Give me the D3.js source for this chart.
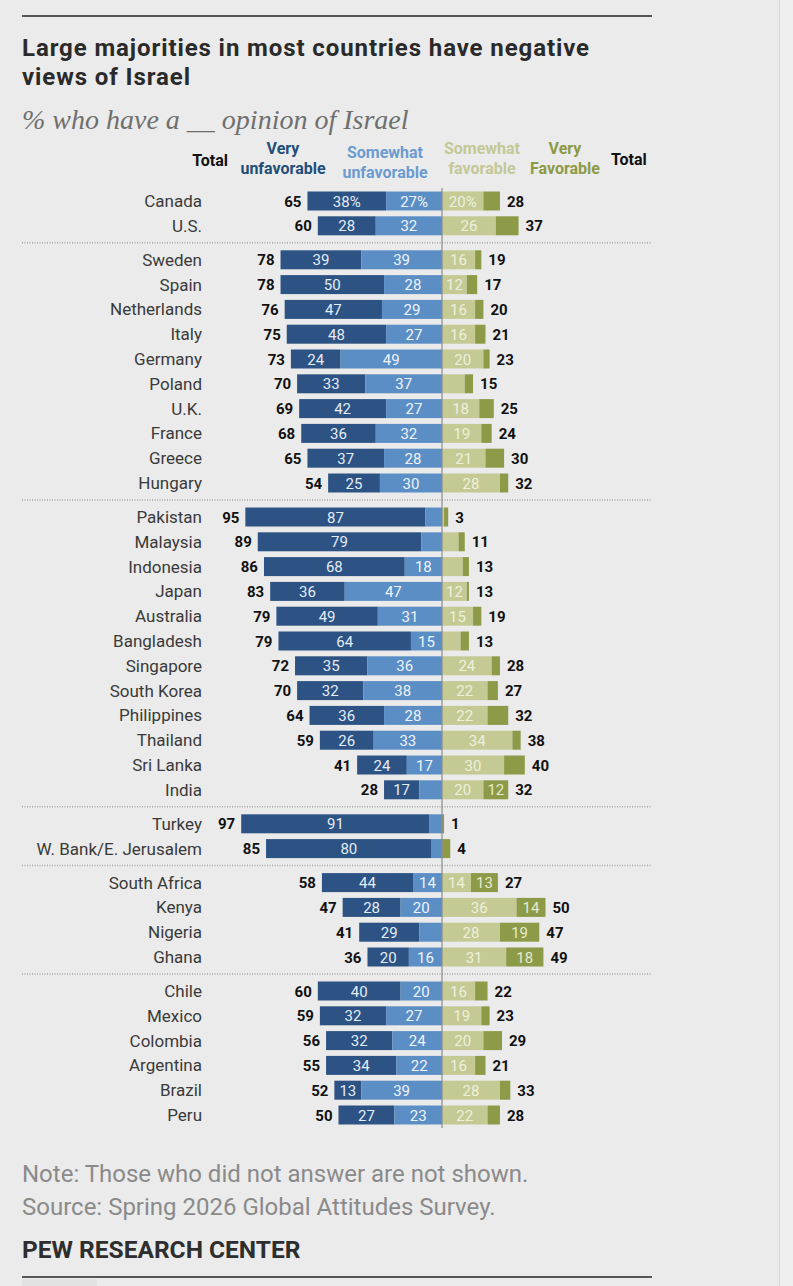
<!DOCTYPE html>
<html>
<head>
<meta charset="utf-8">
<script src="https://cdn.jsdelivr.net/npm/d3@7"></script>
<style>
  body { margin: 0; background: #ebebeb; }
  svg { display: block; }
</style>
</head>
<body>
<div id="chart"></div>
<script>
// Countries, in drawing order, with their region group
const countries = ["Canada", "U.S.",
  "Sweden", "Spain", "Netherlands", "Italy", "Germany", "Poland", "U.K.", "France", "Greece", "Hungary",
  "Pakistan", "Malaysia", "Indonesia", "Japan", "Australia", "Bangladesh", "Singapore", "South Korea", "Philippines", "Thailand", "Sri Lanka", "India",
  "Turkey", "W. Bank/E. Jerusalem",
  "South Africa", "Kenya", "Nigeria", "Ghana",
  "Chile", "Mexico", "Colombia", "Argentina", "Brazil", "Peru"];
const groups = [0, 0,
  1, 1, 1, 1, 1, 1, 1, 1, 1, 1,
  2, 2, 2, 2, 2, 2, 2, 2, 2, 2, 2, 2,
  3, 3,
  4, 4, 4, 4,
  5, 5, 5, 5, 5, 5];

// Series values (%)
const veryUnfav     = [38, 28, 39, 50, 47, 48, 24, 33, 42, 36, 37, 25, 87, 79, 68, 36, 49, 64, 35, 32, 36, 26, 24, 17, 91, 80, 44, 28, 29, 20, 40, 32, 32, 34, 13, 27];
const somewhatUnfav = [27, 32, 39, 28, 29, 27, 49, 37, 27, 32, 28, 30,  8, 10, 18, 47, 31, 15, 36, 38, 28, 33, 17, 11,  6,  5, 14, 20, 11, 16, 20, 27, 24, 22, 39, 23];
const somewhatFav   = [20, 26, 16, 12, 16, 16, 20, 11, 18, 19, 21, 28,  1,  8, 10, 12, 15,  9, 24, 22, 22, 34, 30, 20,  0,  0, 14, 36, 28, 31, 16, 19, 20, 16, 28, 22];
const veryFav       = [ 8, 11,  3,  5,  4,  5,  3,  4,  7,  5,  9,  4,  2,  3,  3,  1,  4,  4,  4,  5, 10,  4, 10, 12,  1,  4, 13, 14, 19, 18,  6,  4,  9,  5,  5,  6];
const totalUnfav    = [65, 60, 78, 78, 76, 75, 73, 70, 69, 68, 65, 54, 95, 89, 86, 83, 79, 79, 72, 70, 64, 59, 41, 28, 97, 85, 58, 47, 41, 36, 60, 59, 56, 55, 52, 50];
const totalFav      = [28, 37, 19, 17, 20, 21, 23, 15, 25, 24, 30, 32,  3, 11, 13, 13, 19, 13, 28, 27, 32, 38, 40, 32,  1,  4, 27, 50, 47, 49, 22, 23, 29, 21, 33, 28];

const headers = [
  { lines: ["Very", "unfavorable"], color: "#1f4e79" },
  { lines: ["Somewhat", "unfavorable"], color: "#6b9bd0" },
  { lines: ["Somewhat", "favorable"], color: "#c3c897" },
  { lines: ["Very", "Favorable"], color: "#8c9a45" }
];

const W = 793, H = 1286;
const cx = 442;
const rowStep = 24.8, groupGap = 9.2, firstRow = 202, barH = 19;
const font = "Roboto, 'Liberation Sans', sans-serif";

const svg = d3.select("#chart").append("svg")
  .attr("width", W)
  .attr("height", H)
  .style("background", "#ebebeb");

// right edge strip
svg.append("rect").attr("x", 780).attr("y", 0).attr("width", 13).attr("height", H).attr("fill", "#efefef");
svg.append("line").attr("x1", 779.5).attr("x2", 779.5).attr("y1", 0).attr("y2", H)
  .attr("stroke", "#d6d6d6").attr("stroke-width", 1);

// top and bottom rules
svg.append("line").attr("x1", 22).attr("x2", 652).attr("y1", 16).attr("y2", 16)
  .attr("stroke", "#555").attr("stroke-width", 2);
svg.append("line").attr("x1", 22).attr("x2", 652).attr("y1", 1277).attr("y2", 1277)
  .attr("stroke", "#555").attr("stroke-width", 2);
svg.append("rect").attr("x", 22).attr("y", 1279).attr("width", 75).attr("height", 7).attr("fill", "#e2e2e2");

// Title and subtitle
["Large majorities in most countries have negative", "views of Israel"].forEach((ln, j) => {
  svg.append("text")
    .attr("x", 22).attr("y", 56 + j * 29)
    .style("font-family", font).style("font-weight", 700)
    .style("font-size", "24px").style("letter-spacing", "0.9px")
    .attr("fill", "#2a2a2a")
    .text(ln);
});

svg.append("text")
  .attr("x", 22).attr("y", 129)
  .style("font-family", "'Liberation Serif', 'DejaVu Serif', serif")
  .style("font-style", "italic").style("font-size", "28px")
  .attr("fill", "#6f6f6f")
  .text("% who have a __ opinion of Israel");

// scales
const x = d3.scaleLinear().domain([0, 100]).range([0, 207]);
const rowY = i => firstRow + i * rowStep + groups[i] * groupGap;

// header
const headerX = [283, 385, 482, 565];
headers.forEach((h, k) => {
  const dy = (k === 1) ? 4 : 0;
  const t = svg.append("text")
    .attr("text-anchor", "middle")
    .style("font-family", font).style("font-weight", 700).style("font-size", "16px")
    .attr("fill", h.color);
  h.lines.forEach((ln, j) => {
    t.append("tspan").attr("x", headerX[k]).attr("y", 154 + dy + j * 20).text(ln);
  });
});
svg.append("text").attr("x", 228).attr("y", 166).attr("text-anchor", "end")
  .style("font-family", font).style("font-weight", 700).style("font-size", "16px")
  .attr("fill", "#111").text("Total");
svg.append("text").attr("x", 611).attr("y", 165)
  .style("font-family", font).style("font-weight", 700).style("font-size", "16px")
  .attr("fill", "#111").text("Total");

// group separators (dotted)
for (let i = 1; i < countries.length; i++) {
  if (groups[i] !== groups[i - 1]) {
    const y = (rowY(i - 1) + rowY(i)) / 2 - 1;
    svg.append("line").attr("x1", 22).attr("x2", 652).attr("y1", y).attr("y2", y)
      .attr("stroke", "#a8a8a8").attr("stroke-width", 1.5).attr("stroke-dasharray", "1,1.5");
  }
}

const rows = countries.map((c, i) => ({
  name: c, i,
  vu: veryUnfav[i], su: somewhatUnfav[i], sf: somewhatFav[i], vf: veryFav[i],
  tu: totalUnfav[i], tf: totalFav[i]
}));

const g = svg.append("g");
const row = g.selectAll(".row").data(rows).enter().append("g")
  .attr("class", "row")
  .attr("transform", d => `translate(0,${rowY(d.i)})`);

// segments for one row, outward from the centre line
function segs(d) {
  return [
    { v: d.vu, x0: cx - x(d.vu + d.su), x1: cx - x(d.su), fill: "#2c5384", tc: "#e4ecf6" },
    { v: d.su, x0: cx - x(d.su), x1: cx, fill: "#5c8ec6", tc: "#eef3fa" },
    { v: d.sf, x0: cx, x1: cx + x(d.sf), fill: "#c5ca95", tc: "#eef0dc" },
    { v: d.vf, x0: cx + x(d.sf), x1: cx + x(d.sf + d.vf), fill: "#8d9b48", tc: "#e6ead0" }
  ].map(s => Object.assign(s, { first: d.i === 0 }));
}

row.selectAll("rect").data(segs).enter().append("rect")
  .attr("x", s => s.x0)
  .attr("y", -barH / 2 - 1)
  .attr("width", s => Math.max(0, s.x1 - s.x0))
  .attr("height", barH)
  .attr("fill", s => s.fill);

row.selectAll(".seglab").data(d => segs(d).filter(s => s.v >= 12)).enter().append("text")
  .attr("class", "seglab")
  .attr("x", s => (s.x0 + s.x1) / 2)
  .attr("y", 4.5)
  .attr("text-anchor", "middle")
  .style("font-family", font).style("font-size", "15px")
  .attr("fill", s => s.tc)
  .text(s => s.first ? s.v + "%" : s.v);

// country names
row.append("text")
  .attr("x", 202).attr("y", 5)
  .attr("text-anchor", "end")
  .style("font-family", font).style("font-size", "17px")
  .attr("fill", "#3a3a3a")
  .text(d => d.name);

// totals
row.append("text")
  .attr("x", d => cx - x(d.vu + d.su) - 6).attr("y", 4.5)
  .attr("text-anchor", "end")
  .style("font-family", font).style("font-weight", 700).style("font-size", "15px")
  .attr("fill", "#111")
  .text(d => d.tu);

row.append("text")
  .attr("x", d => cx + x(d.sf + d.vf) + 7).attr("y", 4.5)
  .style("font-family", font).style("font-weight", 700).style("font-size", "15px")
  .attr("fill", "#111")
  .text(d => d.tf);

// center axis
svg.append("line").attr("x1", cx).attr("x2", cx)
  .attr("y1", rowY(0) - 14).attr("y2", rowY(countries.length - 1) + 12)
  .attr("stroke", "#8a8a8a").attr("stroke-width", 1.2);

// footer
const foot = svg.append("text")
  .style("font-family", font).style("font-size", "24px").attr("fill", "#8a8a8a");
foot.append("tspan").attr("x", 22).attr("y", 1182).text("Note: Those who did not answer are not shown.");
foot.append("tspan").attr("x", 22).attr("y", 1215).text("Source: Spring 2026 Global Attitudes Survey.");

svg.append("text").attr("x", 22).attr("y", 1258)
  .style("font-family", font).style("font-weight", 700).style("font-size", "24.5px")
  .attr("fill", "#2e2e2e")
  .text("PEW RESEARCH CENTER");
</script>
</body>
</html>
